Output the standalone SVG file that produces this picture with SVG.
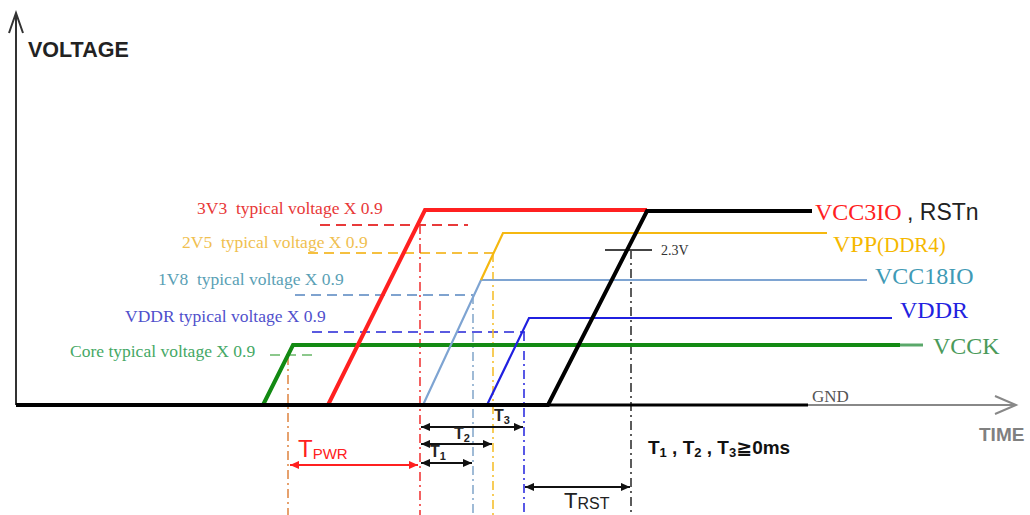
<svg xmlns="http://www.w3.org/2000/svg" width="1030" height="515" viewBox="0 0 1030 515">
<defs>
<marker id="ahk" viewBox="0 0 10 10" refX="10" refY="5" markerWidth="10" markerHeight="9" markerUnits="userSpaceOnUse" orient="auto-start-reverse"><path d="M0,0.5 L10,5 L0,9.5 z" fill="#111"/></marker>
<marker id="ahr" viewBox="0 0 10 10" refX="10" refY="5" markerWidth="10" markerHeight="9" markerUnits="userSpaceOnUse" orient="auto-start-reverse"><path d="M0,0.5 L10,5 L0,9.5 z" fill="#ff2020"/></marker>
<style>
.serif{font-family:"Liberation Serif","Times New Roman",serif}
.sans{font-family:"Liberation Sans",Arial,"DejaVu Sans",sans-serif}
.lbl{font-size:17.5px}
.rl{font-size:24px}
.sig{fill:none;stroke-linejoin:miter}
.dash{fill:none;stroke-width:2;stroke-dasharray:10,6}
.dd{fill:none;stroke-width:1.6;stroke-dasharray:9,4,2,4}
.arr{stroke:#111;stroke-width:2;marker-start:url(#ahk);marker-end:url(#ahk)}
</style>
</defs>
<rect width="1030" height="515" fill="#fff"/>

<g id="axes">
<line x1="16" y1="13" x2="16" y2="405" stroke="#333" stroke-width="2"/>
<polyline points="9,33 16,13 23,33" fill="none" stroke="#333" stroke-width="2"/>
<line x1="808" y1="405" x2="1016" y2="405" stroke="#888" stroke-width="2"/>
<polyline points="995,396 1016,405 995,414" fill="none" stroke="#888" stroke-width="2"/>
<text x="28" y="57" class="sans" font-size="21.5" font-weight="bold" fill="#222">VOLTAGE</text>
<text x="979" y="441" class="sans" font-size="19" font-weight="bold" fill="#808080">TIME</text>
<text x="812" y="402" class="serif" font-size="17" fill="#555">GND</text>
</g>

<g id="thresholds">
<line x1="320" y1="225" x2="468" y2="225" class="dash" stroke="#e83a3a"/>
<line x1="308" y1="253" x2="494" y2="253" class="dash" stroke="#f5c040"/>
<line x1="295" y1="295" x2="473" y2="295" class="dash" stroke="#7fa3cf"/>
<line x1="312" y1="332" x2="525" y2="332" class="dash" stroke="#5a5ae0"/>
<line x1="270" y1="355" x2="318" y2="355" class="dash" stroke="#8cc88c"/>
</g>

<g id="markers-v">
<line x1="288" y1="356" x2="288" y2="515" class="dd" stroke="#e08a4a"/>
<line x1="420" y1="225" x2="420" y2="515" class="dd" stroke="#f03a3a"/>
<line x1="473" y1="295" x2="473" y2="515" class="dd" stroke="#88aacc"/>
<line x1="493" y1="253" x2="493" y2="515" class="dd" stroke="#f5c030"/>
<line x1="524" y1="332" x2="524" y2="515" class="dd" stroke="#3030e0"/>
<line x1="631" y1="250" x2="631" y2="515" class="dd" stroke="#333"/>
<line x1="605" y1="250" x2="652" y2="250" stroke="#444" stroke-width="2"/>
<text x="661" y="255" class="serif" font-size="14" fill="#333">2.3V</text>
</g>

<g id="VCCK">
<polyline class="sig" points="263,405 293,345 900,345" stroke="#138a13" stroke-width="4"/>
<line x1="900" y1="345" x2="923" y2="345" stroke="#5aa86a" stroke-width="3"/>
<text x="70" y="357" class="serif lbl" fill="#45a865">Core typical voltage X 0.9</text>
<text x="933" y="354" class="serif rl" fill="#4a9a5a">VCCK</text>
</g>

<g id="VDDR">
<polyline class="sig" points="487,405 529,318 892,318" stroke="#2020e0" stroke-width="2.2"/>
<text x="125" y="322" class="serif lbl" fill="#5050cc">VDDR typical voltage X 0.9</text>
<text x="900" y="318" class="serif rl" fill="#2222e0">VDDR</text>
</g>

<g id="VCC18IO">
<polyline class="sig" points="423,405 481,280 867,280" stroke="#7ea4d2" stroke-width="2.2"/>
<text x="158" y="285" class="serif lbl" fill="#5a9fb5">1V8&#160;&#160;typical voltage X 0.9</text>
<text x="875" y="284" class="serif rl" fill="#3f9ab5">VCC18IO</text>
</g>

<g id="VPP">
<polyline class="sig" points="481,280 503,233 827,233" stroke="#f5b810" stroke-width="2.2"/>
<text x="182" y="248" class="serif lbl" fill="#f0c050">2V5&#160;&#160;typical voltage X 0.9</text>
<text x="833" y="252" class="serif" fill="#f5b800"><tspan font-size="24">VPP</tspan><tspan font-size="21">(DDR4)</tspan></text>
</g>

<g id="VCC3IO">
<polyline class="sig" points="328,405 425,210 647,210" stroke="#ff2020" stroke-width="4"/>
<text x="197" y="214" class="serif lbl" fill="#e83838">3V3&#160;&#160;typical voltage X 0.9</text>
<text x="815" y="220" class="serif rl" fill="#ff2020">VCC3IO</text>
<text x="907" y="220" class="sans" font-size="23" fill="#222">, RSTn</text>
</g>

<g id="RSTn">
<polyline class="sig" points="16,405 548,405 647,211 812,211" stroke="#000" stroke-width="4"/>
<line x1="548" y1="405" x2="808" y2="405" stroke="#000" stroke-width="3"/>
</g>

<g id="connectors">
<line x1="290" y1="465" x2="418" y2="465" stroke="#ff2020" stroke-width="2" marker-start="url(#ahr)" marker-end="url(#ahr)"/>
<line x1="421" y1="427" x2="523" y2="427" class="arr"/>
<line x1="421" y1="444" x2="492" y2="444" class="arr"/>
<line x1="421" y1="463" x2="472" y2="463" class="arr"/>
<line x1="525" y1="487" x2="630" y2="487" class="arr"/>
</g>

<g id="labels">
<text x="298" y="457" class="sans" fill="#ff2020"><tspan font-size="24">T</tspan><tspan font-size="15" dy="2">PWR</tspan></text>
<text x="494" y="421" class="sans" font-weight="bold" fill="#222"><tspan font-size="16">T</tspan><tspan font-size="11" dy="3">3</tspan></text>
<text x="454" y="439" class="sans" font-weight="bold" fill="#222"><tspan font-size="16">T</tspan><tspan font-size="11" dy="3">2</tspan></text>
<text x="430" y="457" class="sans" font-weight="bold" fill="#222"><tspan font-size="16">T</tspan><tspan font-size="11" dy="3">1</tspan></text>
<text x="564" y="508" class="sans" fill="#222"><tspan font-size="22">T</tspan><tspan font-size="16" dy="1">RST</tspan></text>
<text x="648" y="454" class="sans" font-weight="bold" fill="#111"><tspan font-size="19">T</tspan><tspan font-size="13" dy="3">1</tspan><tspan font-size="19" dy="-3"> , T</tspan><tspan font-size="13" dy="3">2</tspan><tspan font-size="19" dy="-3"> , T</tspan><tspan font-size="13" dy="3">3</tspan><tspan font-size="19" dy="-3">≧0ms</tspan></text>
</g>
</svg>
